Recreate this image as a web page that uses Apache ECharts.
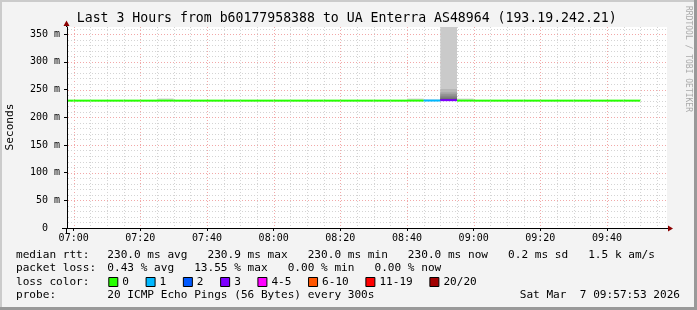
<!DOCTYPE html>
<html><head><meta charset="utf-8">
<script src="https://cdn.jsdelivr.net/npm/echarts@6/dist/echarts.min.js"></script>
<style>html,body{margin:0;padding:0;background:#f3f3f3}#c{width:697px;height:310px}</style>
</head><body><div id="c"></div>
<script>
// ---------------- data ----------------
const titleText = 'Last 3 Hours from b60177958388 to UA Enterra AS48964 (193.19.242.21)';
const yAxisName = 'Seconds';
const watermark = 'RRDTOOL / TOBI OETIKER';
const xRange = ['06:58', '09:58'];
const xTickLabels = ['07:00','07:20','07:40','08:00','08:20','08:40','09:00','09:20','09:40'];
const yTickValues = [0, 50, 100, 150, 200, 250, 300, 350];
const yMax = 363;
const bucketStarts = ['06:55','07:00','07:05','07:10','07:15','07:20','07:25','07:30','07:35','07:40','07:45','07:50',
  '07:55','08:00','08:05','08:10','08:15','08:20','08:25','08:30','08:35','08:40','08:45','08:50',
  '08:55','09:00','09:05','09:10','09:15','09:20','09:25','09:30','09:35','09:40','09:45'];
const medianRtt = [230.0,230.0,230.0,230.0,230.0,230.0,230.1,230.0,230.0,230.0,230.0,230.0,
  230.0,230.0,230.0,230.0,230.0,230.0,230.0,230.0,230.0,230.1,230.2,230.9,
  230.1,230.0,230.0,230.0,230.0,230.0,230.0,230.0,230.0,230.0,230.0];
const lossCount = [0,0,0,0,0,0,0,0,0,0,0,0,
  0,0,0,0,0,0,0,0,0,0,1,3,
  0,0,0,0,0,0,0,0,0,0,0];
// ping times (ms) per step slot for buckets with visible smoke; null = lost ping slot
const smokePings = {
  '07:25': [229.7,229.8,229.9,229.9,230.0,230.0,230.0,230.0,230.0,230.1,230.1,230.1,230.2,230.2,230.3,230.4,230.5,230.7,231.0,234.2],
  '08:40': [229.7,229.8,229.9,229.9,230.0,230.0,230.0,230.1,230.1,230.1,230.1,230.2,230.2,230.3,230.4,230.5,230.7,231.0,231.6,234.0],
  '08:45': [229.8,229.9,229.9,230.0,230.0,230.1,230.1,230.2,230.2,230.2,230.3,230.3,230.4,230.5,230.6,230.8,231.0,231.3,231.8,null],
  '08:50': [null,229.9,230.0,230.1,230.2,230.4,230.6,230.8,231.0,231.2,231.5,231.8,232.5,234.0,237.5,241.5,245.0,251.0,420.0,null],
  '08:55': [229.7,229.8,229.9,230.0,230.0,230.0,230.0,230.1,230.1,230.1,230.2,230.2,230.3,230.3,230.4,230.5,230.6,230.9,231.3,234.0]
};
const pingsPerStep = 20;
const stepMinutes = 5;
const lossLegend = [
  {label: '0', color: '#26ff00'}, {label: '1', color: '#00b8ff'}, {label: '2', color: '#0059ff'},
  {label: '3', color: '#7e00ff'}, {label: '4-5', color: '#ff00ff'}, {label: '6-10', color: '#ff5500'},
  {label: '11-19', color: '#ff0000'}, {label: '20/20', color: '#a10000'}
];
const lossBins = [[0,0],[1,1],[2,2],[3,3],[4,5],[6,10],[11,19],[20,20]];
const legendRows = [
  {label: 'median rtt:', text: '230.0 ms avg   230.9 ms max   230.0 ms min   230.0 ms now   0.2 ms sd   1.5 k am/s'},
  {label: 'packet loss:', text: '0.43 % avg   13.55 % max   0.00 % min   0.00 % now'},
  {label: 'loss color:', text: null},
  {label: 'probe:', text: '20 ICMP Echo Pings (56 Bytes) every 300s'}
];
const timestamp = 'Sat Mar  7 09:57:53 2026';

// ---------------- helpers ----------------
function toMin(s){ const p = s.split(':').map(Number); return p[0]*60 + p[1]; }
function fmtTime(v){ const h = Math.floor(v/60), m = Math.round(v - h*60); return (h<10?'0':'')+h+':'+(m<10?'0':'')+m; }
function lossColor(n){ for (let i=0;i<lossBins.length;i++){ if (n>=lossBins[i][0] && n<=lossBins[i][1]) return lossLegend[i].color; } return '#000'; }
const FONT = 'DejaVu Sans Mono';
const LFONT = '11.1px "' + FONT + '"';
const xMin = toMin(xRange[0]), xMax = toMin(xRange[1]);
const xTickValues = xTickLabels.map(toMin);

// grid lines
const gridData = [];
for (let t = Math.ceil(xMin/5)*5; t <= xMax; t += 5) gridData.push([0, t, (t % 20 === 0) ? 1 : 0]);
for (let v = 10; v <= yMax; v += 10) gridData.push([1, v, (v % 50 === 0) ? 1 : 0]);

// median line data
const lineData = bucketStarts.map((s, i) => [toMin(s), medianRtt[i], lossCount[i]]);

// smoke bands (smokeping shading: outer pairs light, inner dark)
const smokeData = [];
Object.keys(smokePings).forEach(k => {
  const p = smokePings[k];
  const half = pingsPerStep / 2;
  for (let ibot = 1, itop = pingsPerStep; itop > ibot; itop--, ibot++) {
    const lo = p[ibot-1], hi = p[itop-1];
    if (lo == null || hi == null) continue;
    const c = Math.floor(190/half*(half-ibot)) + 50;
    smokeData.push([toMin(k), lo, hi, c]);
  }
});

const chart = echarts.init(document.getElementById('c'), null, {renderer: 'canvas'});

function clipRect(r, params){
  return echarts.graphic.clipRectByRect(r, {x: params.coordSys.x, y: params.coordSys.y, width: params.coordSys.width, height: params.coordSys.height});
}

const graphics = [];
// frame
graphics.push({type:'rect', shape:{x:0,y:0,width:697,height:2}, style:{fill:'#cbcbcb'}, silent:true});
graphics.push({type:'rect', shape:{x:0,y:0,width:2,height:310}, style:{fill:'#cbcbcb'}, silent:true});
graphics.push({type:'rect', shape:{x:0,y:307,width:697,height:3}, style:{fill:'#999999'}, silent:true});
graphics.push({type:'rect', shape:{x:694,y:0,width:3,height:310}, style:{fill:'#999999'}, silent:true});
// title
graphics.push({type:'text', x:346.7, y:19, style:{text:titleText, font:'13.2px "'+FONT+'"', fill:'#000', align:'center', verticalAlign:'middle'}});
// y axis name
graphics.push({type:'text', x:10, y:127, rotation:Math.PI/2, style:{text:yAxisName, font:LFONT, fill:'#000', align:'center', verticalAlign:'middle'}});
// watermark
graphics.push({type:'text', x:688, y:59, rotation:-Math.PI/2, style:{text:watermark, font:'8px "'+FONT+'"', fill:'#aaaaaa', align:'center', verticalAlign:'middle'}});
// axis extensions and arrows
graphics.push({type:'line', shape:{x1:62,y1:228.5,x2:67,y2:228.5}, style:{stroke:'#000', lineWidth:1}, z:10});
graphics.push({type:'line', shape:{x1:66.5,y1:228,x2:66.5,y2:233}, style:{stroke:'#000', lineWidth:1}, z:10});
graphics.push({type:'line', shape:{x1:666,y1:228.5,x2:669,y2:228.5}, style:{stroke:'#000', lineWidth:1}, z:10});
graphics.push({type:'line', shape:{x1:66.5,y1:27,x2:66.5,y2:24}, style:{stroke:'#000', lineWidth:1}, z:10});
graphics.push({type:'polygon', shape:{points:[[668,225.5],[673,228.5],[668,231.5]]}, style:{fill:'#8b0000'}, z:10});
graphics.push({type:'polygon', shape:{points:[[63.5,26],[66.5,20.5],[69.5,26]]}, style:{fill:'#8b0000'}, z:10});
// legend
const rowY = [254.7, 268.3, 282, 295.3];
const CW = 6.68;
legendRows.forEach((r, i) => {
  graphics.push({type:'text', x:16, y:rowY[i], style:{text:r.label, font:LFONT, fill:'#000', align:'left', verticalAlign:'middle'}});
  if (r.text) graphics.push({type:'text', x:107.3, y:rowY[i], style:{text:r.text, font:LFONT, fill:'#000', align:'left', verticalAlign:'middle'}});
});
let cx = 108.3;
lossLegend.forEach(it => {
  graphics.push({type:'rect', shape:{x:cx+0.5, y:rowY[2]-4.5, width:9, height:9}, style:{fill:it.color, stroke:'#000', lineWidth:1}});
  graphics.push({type:'text', x:cx+14, y:rowY[2], style:{text:it.label, font:LFONT, fill:'#000', align:'left', verticalAlign:'middle'}});
  cx = cx + 14 + it.label.length*CW + 16.6;
});
graphics.push({type:'text', x:680, y:rowY[3], style:{text:timestamp, font:LFONT, fill:'#000', align:'right', verticalAlign:'middle'}});

chart.setOption({
  animation: false,
  backgroundColor: '#f3f3f3',
  grid: {left: 67, top: 27, width: 600, height: 201, show: true, backgroundColor: '#ffffff', borderWidth: 0},
  xAxis: {
    type: 'value', min: xMin, max: xMax, z: 10,
    axisLine: {show: true, onZero: false, lineStyle: {color: '#000', width: 1}},
    axisTick: {show: true, customValues: xTickValues, length: 3, lineStyle: {color: '#000'}},
    axisLabel: {customValues: xTickValues, formatter: v => fmtTime(v), fontFamily: FONT, fontSize: 10, color: '#000', margin: 5},
    splitLine: {show: false}
  },
  yAxis: {
    type: 'value', min: 0, max: yMax, z: 10,
    axisLine: {show: true, onZero: false, lineStyle: {color: '#000', width: 1}},
    axisTick: {show: true, customValues: yTickValues, length: 3, lineStyle: {color: '#000'}},
    axisLabel: {customValues: yTickValues, formatter: v => v === 0 ? '0  ' : v + ' m', fontFamily: FONT, fontSize: 10, color: '#000', margin: 7},
    splitLine: {show: false}
  },
  graphic: graphics,
  series: [
    {
      type: 'custom', name: 'grid', z: 1, silent: true, data: gridData,
      renderItem: (params, api) => {
        const o = api.value(0), v = api.value(1), major = api.value(2);
        const cs = params.coordSys;
        let shape;
        if (o === 0) { const x = Math.round(api.coord([v, 0])[0]) + 0.5; shape = {x1: x, y1: cs.y, x2: x, y2: cs.y + cs.height - 1}; }
        else { const y = Math.round(api.coord([xMin, v])[1]) + 0.5; shape = {x1: cs.x + 1, y1: y, x2: cs.x + cs.width, y2: y}; }
        return {type: 'line', shape, style: {stroke: major ? '#f2a8a8' : '#d4d4d4', lineWidth: 1, lineDash: [1, 2]}};
      }
    },
    {
      type: 'custom', name: 'smoke', z: 2, silent: true, data: smokeData,
      renderItem: (params, api) => {
        const t = api.value(0);
        const p1 = api.coord([t, Math.min(api.value(2), yMax)]);
        const p2 = api.coord([t + stepMinutes, api.value(1)]);
        const c = api.value(3);
        const r = clipRect({x: p1[0], y: p1[1], width: p2[0]-p1[0], height: p2[1]-p1[1]}, params);
        if (!r) return;
        return {type: 'rect', shape: r, style: {fill: 'rgb(' + c + ',' + c + ',' + c + ')'}};
      }
    },
    {
      type: 'custom', name: 'median', z: 3, silent: true, data: lineData,
      renderItem: (params, api) => {
        const t = api.value(0);
        const a = api.coord([t, api.value(1)]);
        const b = api.coord([t + stepMinutes, api.value(1)]);
        const r = clipRect({x: a[0], y: a[1] - 1, width: b[0]-a[0], height: 2}, params);
        if (!r) return;
        return {type: 'rect', shape: r, style: {fill: lossColor(api.value(2))}};
      }
    }
  ]
});
</script></body></html>
